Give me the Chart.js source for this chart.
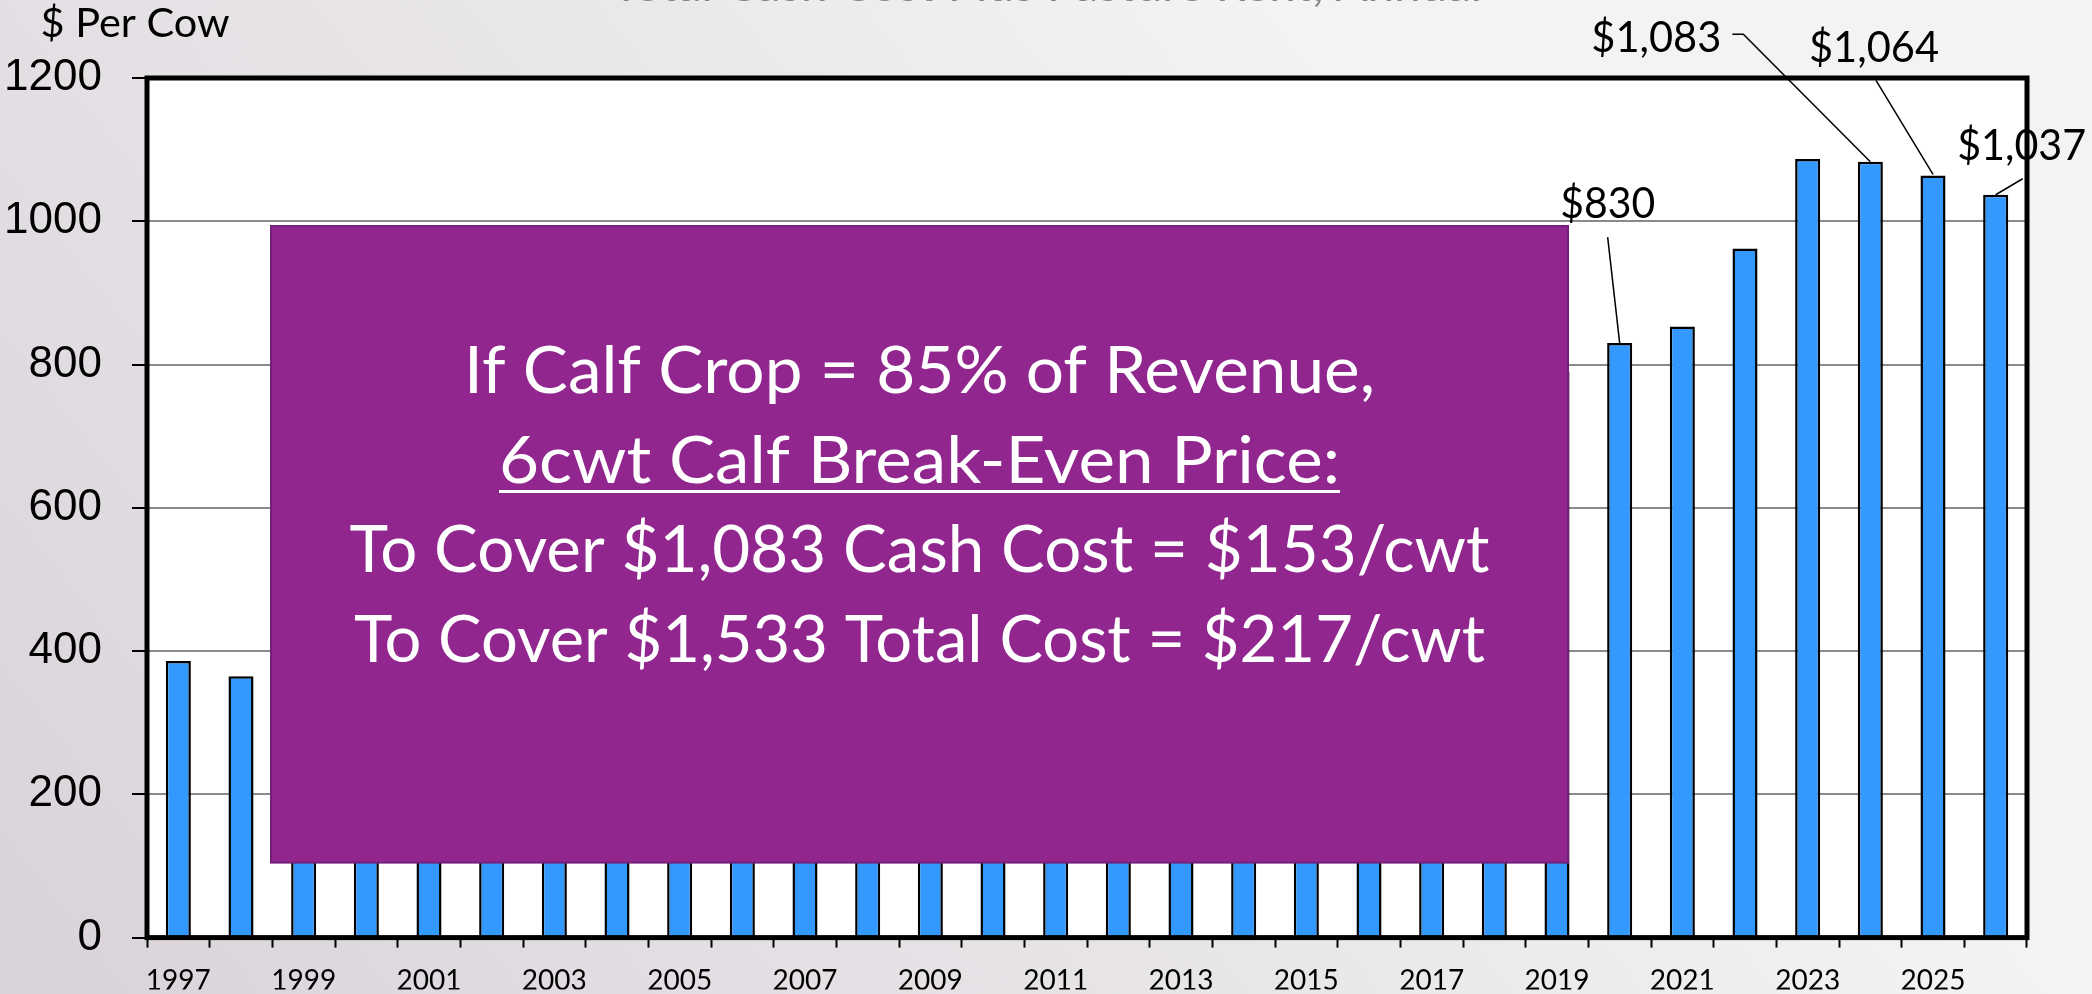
<!DOCTYPE html>
<html>
<head>
<meta charset="utf-8">
<script src="https://cdn.jsdelivr.net/npm/chart.js@4.4.1/dist/chart.umd.min.js"></script>
<style>
  html, body { margin: 0; padding: 0; background: #e6e3e7; }
  canvas { display: block; }
</style>
</head>
<body>
<canvas id="costChart" width="2092" height="994"></canvas>
<script>
const years = ['1997', '1998', '1999', '2000', '2001', '2002', '2003', '2004', '2005', '2006',
    '2007', '2008', '2009', '2010', '2011', '2012', '2013', '2014', '2015', '2016',
    '2017', '2018', '2019', '2020', '2021', '2022', '2023', '2024', '2025', '2026'];
const cashCost = [386, 365, 372, 390, 405, 418, 430, 455, 482, 505,
    535, 598, 585, 600, 665, 720, 758, 792, 800, 772,
    760, 770, 790, 830, 853, 962, 1087, 1083, 1064, 1037];
const yTicks = [0, 200, 400, 600, 800, 1000, 1200];
const calloutYears = ['2020', '2024', '2025', '2026'];
const boxLines = [
    'If Calf Crop = 85% of Revenue,',
    '6cwt Calf Break-Even Price:',
    'To Cover $1,083 Cash Cost = $153/cwt',
    'To Cover $1,533 Total Cost = $217/cwt'
];
const chartTitle = 'Total Cash Cost Plus Pasture Rent, Annual';
const yAxisTitle = '$ Per Cow';

const canvas = document.getElementById('costChart');

// draws text centred at cx, squeezed/stretched to a given width
function fitText(ctx, txt, cx, y, w) {
    const m = ctx.measureText(txt).width;
    ctx.save();
    ctx.translate(cx, y);
    ctx.scale(w / m, 1);
    ctx.textAlign = 'center';
    ctx.fillText(txt, 0, 0);
    ctx.restore();
}

const backdrop = {
    id: 'backdrop',
    beforeDraw(chart) {
        const ctx = chart.ctx;
        const ca = chart.chartArea;
        const g = ctx.createLinearGradient(0, chart.height, chart.width * 0.6, 0);
        g.addColorStop(0, '#d9d3d9');
        g.addColorStop(1, '#f3f2f4');
        ctx.save();
        ctx.fillStyle = g;
        ctx.fillRect(0, 0, chart.width, chart.height);
        ctx.fillStyle = '#ffffff';
        ctx.fillRect(ca.left, ca.top, ca.right - ca.left, ca.bottom - ca.top);
        ctx.restore();
    }
};

const overlay = {
    id: 'overlay',
    afterDatasetsDraw(chart) {
        const ctx = chart.ctx;
        const ca = chart.chartArea;
        ctx.save();

        // purple text box
        const bx = ca.left + 124, by = ca.top + 148;
        const bw = ca.right - 459 - bx, bh = ca.bottom - 75 - by;
        ctx.fillStyle = '#91278e';
        ctx.fillRect(bx, by, bw, bh);
        ctx.strokeStyle = '#74207a';
        ctx.lineWidth = 2;
        ctx.strokeRect(bx, by, bw, bh);

        const cx = bx + bw / 2;
        const baselines = [167, 257, 346, 436];
        const widths = [911, 841, 1140, 1131];
        ctx.fillStyle = '#ffffff';
        ctx.font = '66px Lato';
        ctx.textBaseline = 'alphabetic';
        boxLines.forEach((line, i) => {
            fitText(ctx, line, cx, by + baselines[i], widths[i]);
        });
        ctx.fillRect(cx - widths[1] / 2, by + 264, widths[1], 3);

        // plot frame
        ctx.strokeStyle = '#000000';
        ctx.lineWidth = 5;
        ctx.strokeRect(ca.left, ca.top, ca.right - ca.left, ca.bottom - ca.top);
        ctx.restore();
    },
    afterDraw(chart) {
        const ctx = chart.ctx;
        const meta = chart.getDatasetMeta(0);
        const layout = {
            '2020': { tx: -12, ty: -125, w: 95, line: [[-12, -106], [0, 0]] },
            '2024': { tx: -214, ty: -110, w: 130, line: [[-138, -127.5], [-127, -127.5], [0, 0]] },
            '2025': { tx: -59, ty: -113, w: 130, line: [[-57, -95], [0, -1]] },
            '2026': { tx: 26, ty: -35, w: 129, line: [[27, -16], [0, 0]] }
        };
        ctx.save();
        ctx.fillStyle = '#000000';
        ctx.strokeStyle = '#000000';
        ctx.lineWidth = 1.5;
        ctx.font = '43px Lato';
        ctx.textBaseline = 'alphabetic';
        calloutYears.forEach(yr => {
            const idx = years.indexOf(yr);
            const bar = meta.data[idx];
            const c = layout[yr];
            const txt = '$' + cashCost[idx].toLocaleString('en-US');
            fitText(ctx, txt, bar.x + c.tx, bar.y + c.ty, c.w);
            ctx.beginPath();
            c.line.forEach((p, i) => {
                if (i === 0) ctx.moveTo(bar.x + p[0], bar.y + p[1]);
                else ctx.lineTo(bar.x + p[0], bar.y + p[1]);
            });
            ctx.stroke();
        });

        // axis title and the cut-off slide title
        ctx.font = '40px Lato';
        fitText(ctx, yAxisTitle, 135, 37, 189);
        ctx.fillStyle = '#858585';
        ctx.font = '44px Lato';
        fitText(ctx, chartTitle, 1047, 1, 870);
        ctx.restore();
    }
};

new Chart(canvas, {
    type: 'bar',
    data: {
        labels: years,
        datasets: [{
            label: yAxisTitle,
            data: cashCost,
            backgroundColor: '#3399ff',
            borderColor: '#000000',
            borderWidth: 2.5,
            borderSkipped: 'bottom',
            barPercentage: 0.4,
            categoryPercentage: 1
        }]
    },
    options: {
        responsive: false,
        devicePixelRatio: 1,
        animation: false,
        layout: { padding: { top: 78, right: 65, left: 0, bottom: 0 } },
        plugins: {
            legend: { display: false },
            tooltip: { enabled: false }
        },
        scales: {
            x: {
                offset: true,
                afterFit(scale) { scale.height = 52; },
                border: { display: false },
                grid: {
                    offset: true,
                    drawOnChartArea: false,
                    tickLength: 10,
                    tickColor: '#000000',
                    tickWidth: 2
                },
                ticks: {
                    autoSkip: false,
                    maxRotation: 0,
                    padding: 17,
                    color: '#000000',
                    font: { family: 'Lato', size: 28 },
                    callback: (val, i) => (i % 2 === 0 ? years[i] : '')
                }
            },
            y: {
                min: yTicks[0],
                max: yTicks[yTicks.length - 1],
                afterFit(scale) { scale.width = 147; },
                border: { display: false },
                grid: {
                    color: '#8a8a8a',
                    lineWidth: 2,
                    tickLength: 15,
                    tickColor: '#000000',
                    tickWidth: 2
                },
                ticks: {
                    stepSize: yTicks[1] - yTicks[0],
                    padding: 30,
                    color: '#000000',
                    font: { family: 'Liberation Sans', size: 44 },
                    callback: v => String(v)
                }
            }
        }
    },
    plugins: [backdrop, overlay]
});
</script>
</body>
</html>
